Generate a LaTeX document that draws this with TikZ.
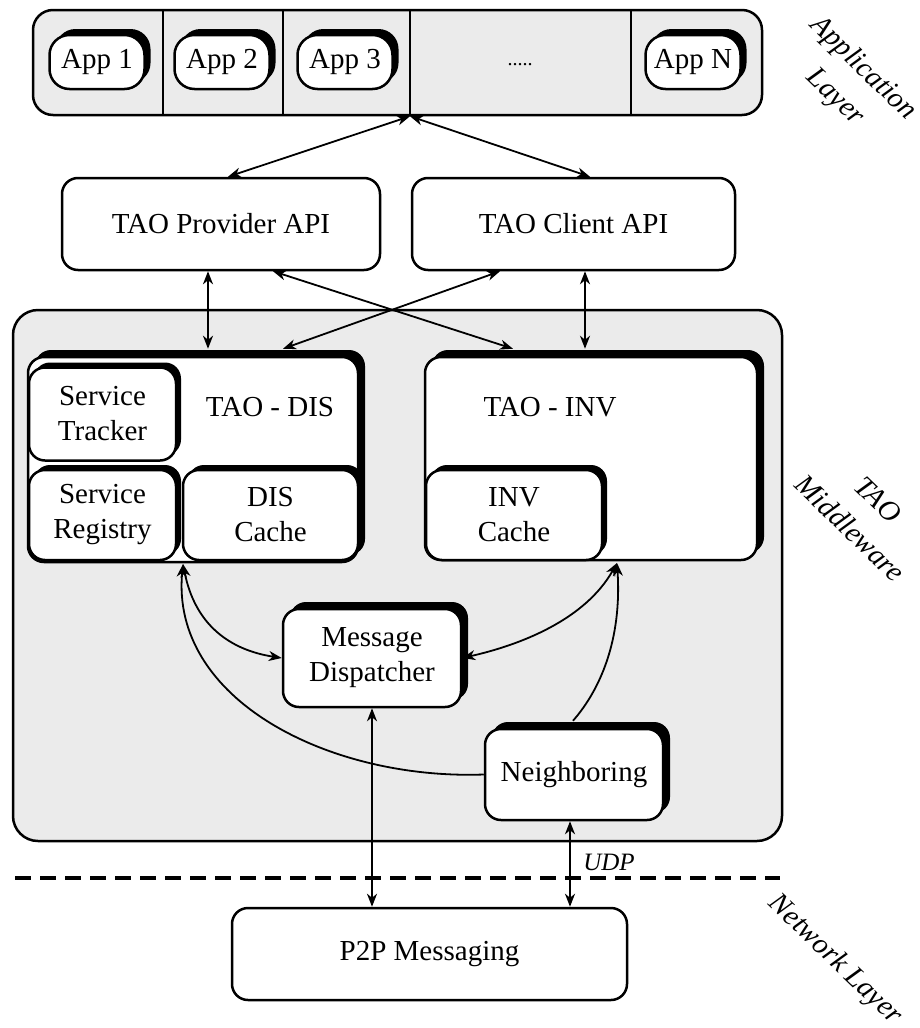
\documentclass[tikz,border=0pt]{standalone}
\usepackage{fontspec}
\setmainfont{Liberation Serif}
\usetikzlibrary{shadows,arrows.meta,calc}
\definecolor{panel}{HTML}{EBEBEB}
\begin{document}
\begin{tikzpicture}[x=1pt,y=-1pt,
  txt/.style={font=\fontsize{29}{35}\selectfont},
  box/.style={draw, line width=2.5pt, fill=white, rounded corners=16pt, inner sep=0pt, align=center, txt},
  sbox/.style={box, general shadow={fill=black, shadow xshift=7pt, shadow yshift=7pt}},
  sboxs/.style={box, general shadow={fill=black, shadow xshift=5pt, shadow yshift=5pt}},
  appbox/.style={box, rounded corners=20pt, minimum width=95pt, minimum height=54pt, general shadow={fill=black, shadow xshift=6pt, shadow yshift=6pt}},
  panelbox/.style={draw, line width=2.5pt, fill=panel, inner sep=0pt},
  tip/.tip={Stealth[length=13pt,width=10pt,inset=4pt]},
  arr/.style={line width=1.8pt, tip-tip},
  arrone/.style={line width=1.8pt, -tip},
  layer/.style={font=\fontsize{29}{40}\selectfont\itshape, align=center, rotate=-44},
]
\useasboundingbox (0,0) rectangle (920,1028);

% application layer
\node[panelbox, rounded corners=20pt, minimum width=729pt, minimum height=105pt] (appbar) at (397.5,62.5) {};
\draw[line width=2.5pt] (163,10) -- (163,115);
\draw[line width=2.5pt] (283,10) -- (283,115);
\draw[line width=2.5pt] (410,10) -- (410,115);
\draw[line width=2.5pt] (631,10) -- (631,115);
\node[appbox] (app1) at (97,62) {App 1};
\node[appbox] (app2) at (222,62) {App 2};
\node[appbox] (app3) at (345,62) {App 3};
\node[appbox] (appn) at (693,62) {App N};
\node[font=\fontsize{20}{24}\selectfont] (dots) at (520,65) {.....};
\node[layer] (lapp) at (849,83) {Application\\Layer};

% API boxes
\node[box, minimum width=318pt, minimum height=92pt] (prov) at (221,224) {TAO Provider API};
\node[box, minimum width=323pt, minimum height=92pt] (cli) at (573.5,224) {TAO Client API};
\coordinate (appjoin) at ([xshift=12.5pt]appbar.south);
\draw[arr] (appjoin) -- ([xshift=7pt]prov.north);
\draw[arr] (appjoin) -- ([xshift=16.5pt]cli.north);

% middleware panel
\node[panelbox, rounded corners=25pt, minimum width=769pt, minimum height=531pt] (mw) at (397.5,575.5) {};
\node[layer] (lmw) at (864,514) {TAO\\Middleware};

% DIS
\node[sbox, minimum width=330pt, minimum height=205pt] (dis) at (193,459.5) {};
\node[txt] (dislab) at (270,407) {TAO - DIS};
\node[sboxs, minimum width=147pt, minimum height=93pt] (trk) at (102.5,414) {Service\\Tracker};
\node[sboxs, minimum width=147pt, minimum height=90pt] (reg) at (102.5,515) {Service\\Registry};
\node[sboxs, minimum width=175pt, minimum height=90pt] (dcache) at (270.5,515) {DIS\\Cache};

% INV
\node[sbox, minimum width=332pt, minimum height=203pt] (inv) at (591,458.5) {};
\node[txt] (invlab) at (550,407) {TAO - INV};
\node[sboxs, minimum width=176pt, minimum height=90pt] (icache) at (514,515) {INV\\Cache};

% API to DIS/INV
\draw[arr] ([xshift=-13pt]prov.south) -- ([xshift=15pt,yshift=7pt]dis.north);
\draw[arr] ([xshift=11.5pt]cli.south) -- ([xshift=-6pt,yshift=7pt]inv.north);
\draw[arr] ([xshift=52pt]prov.south) -- ([xshift=-78pt,yshift=7pt]inv.north);
\draw[arr] ([xshift=-73.5pt]cli.south) -- ([xshift=90pt,yshift=7pt]dis.north);

% message dispatcher and neighboring
\node[sbox, minimum width=178pt, minimum height=98pt] (md) at (372,658) {Message\\Dispatcher};
\node[sbox, minimum width=178pt, minimum height=91pt] (nb) at (574,774.5) {Neighboring};

\coordinate (disin) at (183,564);
\coordinate (invin) at (617,563);
\draw[arr] (disin) .. controls (195,625) and (230,650) .. (md.west);
\draw[arr] (invin) .. controls (585,620) and (520,645) .. (md.east);
\draw[arrone] (nb.west) .. controls (330,780) and (170,700) .. (disin);
\draw[arrone] ([xshift=-1pt,yshift=7pt]nb.north) .. controls (600,690) and (622,640) .. (invin);

% network layer
\draw[line width=4pt, dash pattern=on 16pt off 9pt] (15,878) -- (780,878);
\node[box, minimum width=395pt, minimum height=92pt] (p2p) at (429.5,954) {P2P Messaging};
\draw[arr] (md.south) -- (md.south |- p2p.north);
\draw[arr] ([xshift=-4pt]nb.south) -- ([xshift=-4pt]nb.south |- p2p.north);
\node[font=\fontsize{25}{30}\selectfont\itshape] (udp) at (609,862) {UDP};
\node[layer] (lnet) at (835,960) {Network Layer};
\end{tikzpicture}
\end{document}
